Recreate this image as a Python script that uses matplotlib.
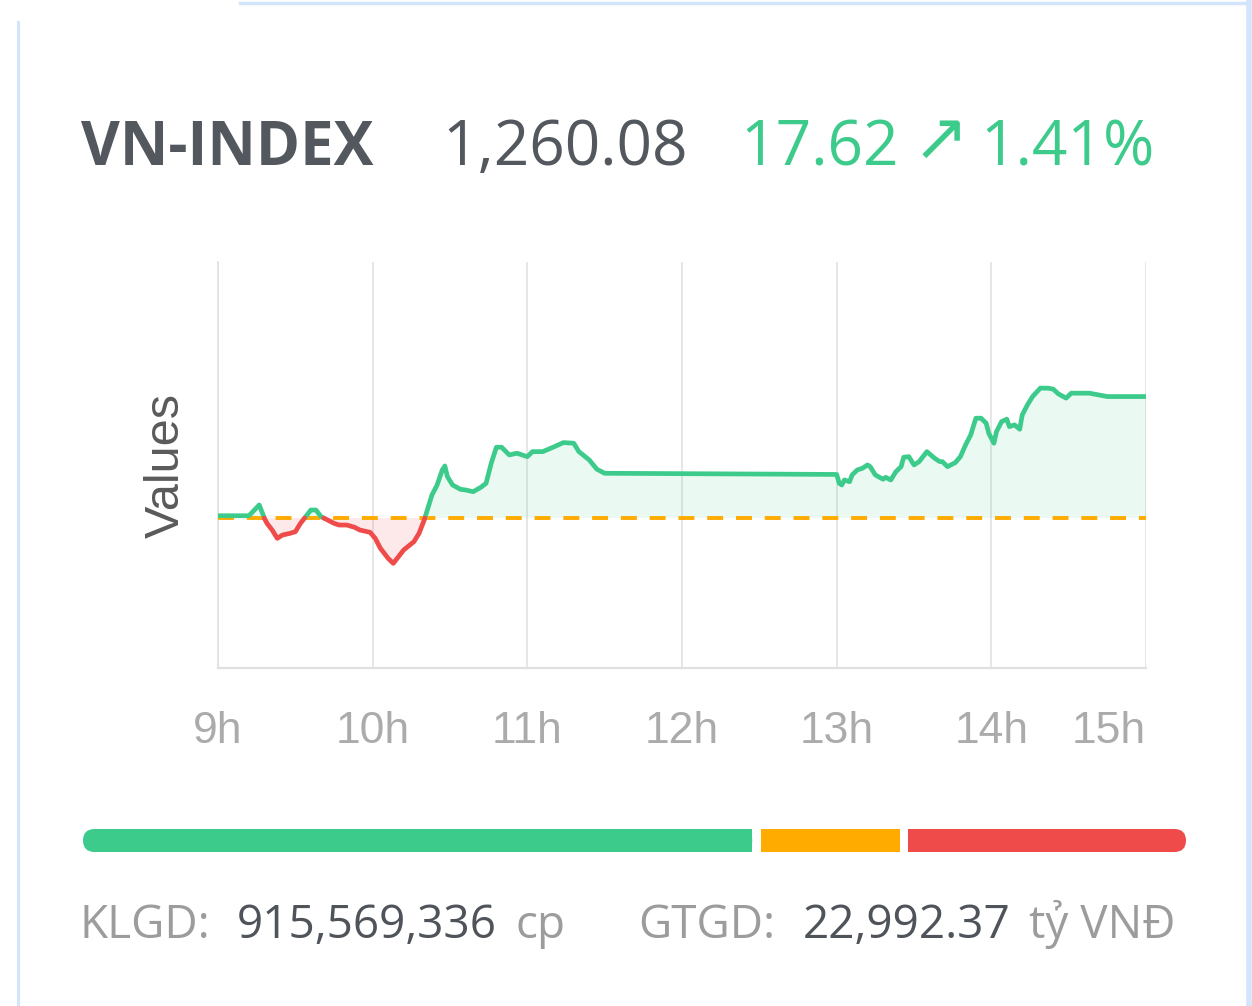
import numpy as np
import matplotlib
matplotlib.use("Agg")
import matplotlib.pyplot as plt
from matplotlib.patches import FancyBboxPatch, Rectangle
from matplotlib.lines import Line2D

# ---------------- data ----------------
index_name = "VN-INDEX"
close_text = "1,260.08"
change_text = "17.62"
arrow_text = "\u2197"
pct_text = "1.41%"
reference = 1242.46

times = ["09:00", "09:12", "09:16", "09:18", "09:19", "09:21", "09:23", "09:25",
         "09:28", "09:30", "09:32", "09:34", "09:36", "09:38", "09:40", "09:42",
         "09:45", "09:47", "09:50", "09:53", "09:55", "09:59", "10:01", "10:03",
         "10:06", "10:08", "10:10", "10:12", "10:16", "10:18", "10:20", "10:22",
         "10:23", "10:25", "10:27", "10:28", "10:29", "10:31", "10:34", "10:36",
         "10:39", "10:42", "10:44", "10:46", "10:48", "10:50", "10:53", "10:56",
         "11:00", "11:02", "11:06", "11:10", "11:14", "11:18", "11:20", "11:24",
         "11:27", "11:30", "13:00", "13:01", "13:02", "13:03", "13:05", "13:06",
         "13:08", "13:10", "13:12", "13:13", "13:15", "13:18", "13:19", "13:21",
         "13:23", "13:25", "13:26", "13:28", "13:30", "13:32", "13:35", "13:38",
         "13:40", "13:41", "13:43", "13:46", "13:48", "13:50", "13:52", "13:54",
         "13:56", "13:58", "13:59", "14:01", "14:02", "14:04", "14:06", "14:07",
         "14:09", "14:11", "14:12", "14:14", "14:16", "14:19", "14:22", "14:24",
         "14:26", "14:29", "14:31", "14:38", "14:45", "15:00"]
values = [1242.79, 1242.79, 1244.35, 1242.42, 1241.69, 1240.72, 1239.51, 1239.99,
          1240.24, 1240.47, 1241.69, 1242.65, 1243.62, 1243.62, 1242.65, 1242.27,
          1241.69, 1241.44, 1241.44, 1241.11, 1240.72, 1240.38, 1239.51, 1238.06,
          1236.61, 1235.88, 1236.84, 1237.81, 1239.02, 1240.24, 1242.17, 1244.60,
          1245.80, 1247.25, 1249.43, 1250.01, 1248.46, 1247.25, 1246.63, 1246.53,
          1246.28, 1246.92, 1247.50, 1250.41, 1252.73, 1252.73, 1251.61, 1251.86,
          1251.36, 1252.09, 1252.09, 1252.73, 1253.40, 1253.31, 1252.09, 1250.89,
          1249.53, 1248.95, 1248.78, 1247.50, 1247.25, 1247.98, 1247.73, 1248.71,
          1249.43, 1249.68, 1250.16, 1249.91, 1248.71, 1248.08, 1248.37, 1247.98,
          1249.19, 1249.91, 1251.28, 1251.36, 1250.16, 1250.64, 1252.09, 1251.13,
          1250.64, 1250.64, 1249.91, 1250.49, 1251.36, 1253.06, 1254.52, 1256.94,
          1256.94, 1256.22, 1254.76, 1253.31, 1255.00, 1256.45, 1256.80, 1255.72,
          1255.97, 1255.34, 1257.42, 1258.87, 1260.08, 1261.30, 1261.30, 1261.16,
          1260.47, 1259.85, 1260.57, 1260.57, 1260.08, 1260.08]

hour_ticks = [9, 10, 11, 12, 13, 14, 15]
hour_labels = ["9h", "10h", "11h", "12h", "13h", "14h", "15h"]
y_label = "Values"
y_limits = (1220.7, 1279.6)

breadth_counts = [265, 55, 110]          # advancing, unchanged, declining

volume_label, volume_value, volume_unit = "KLGD:", "915,569,336", "cp"
turnover_label, turnover_value, turnover_unit = "GTGD:", "22,992.37", "tỷ VNĐ"

# ---------------- styles ----------------
GREEN = "#3dcb8c"
RED = "#ef4b4b"
ORANGE = "#ffab00"
DARK = "#53575e"
GREY = "#9c9c9c"
BORDER = "#d3e5fa"
W, H = 1252, 1006

fig = plt.figure(figsize=(W / 100, H / 100), dpi=100)
fig.patch.set_facecolor("white")


def fx(px):
    return px / W


def fy(py):
    return 1 - py / H


# card borders
fig.add_artist(Line2D([fx(18), fx(18)], [fy(22), fy(1006)], transform=fig.transFigure,
                      color=BORDER, lw=2.2))
fig.add_artist(Line2D([fx(240), fx(1247)], [fy(3), fy(3)], transform=fig.transFigure,
                      color=BORDER, lw=2.5))
fig.add_artist(Line2D([fx(1249), fx(1249)], [fy(0), fy(1006)], transform=fig.transFigure,
                      color=BORDER, lw=4))

# ---------------- header ----------------
head_font = ["Open Sans", "DejaVu Sans"]
fig.text(fx(81), fy(165), index_name, fontsize=43, fontweight="bold", color=DARK,
         family=head_font, va="baseline", ha="left")
fig.text(fx(442), fy(165), close_text, fontsize=44.7, color=DARK, family=head_font,
         va="baseline", ha="left")
fig.text(fx(740), fy(165), change_text, fontsize=44.7, color=GREEN, family=head_font,
         va="baseline", ha="left")
fig.text(fx(941), fy(141), arrow_text, fontsize=48, color=GREEN, family=["DejaVu Sans"],
         va="center", ha="center")
fig.text(fx(980), fy(165), pct_text, fontsize=44.7, color=GREEN, family=head_font,
         va="baseline", ha="left")

# ---------------- line chart ----------------
t = np.array([int(s[:2]) + int(s[3:]) / 60 for s in times])
v = np.array(values)


def split_at_reference(x, y, ref):
    xs, ys = [x[0]], [y[0]]
    for i in range(1, len(x)):
        d0, d1 = y[i - 1] - ref, y[i] - ref
        if d0 * d1 < 0:
            f = d0 / (d0 - d1)
            xs.append(x[i - 1] + f * (x[i] - x[i - 1]))
            ys.append(ref)
        xs.append(x[i])
        ys.append(y[i])
    return np.array(xs), np.array(ys)


ts, vs = split_at_reference(t, v, reference)
up = np.where(vs >= reference, vs, np.nan)
down = np.where(vs <= reference, vs, np.nan)

ax = fig.add_axes([fx(218), fy(668), fx(1146) - fx(218), fy(262) - fy(668)])
ax.set_xlim(hour_ticks[0], hour_ticks[-1])
ax.set_ylim(*y_limits)

ax.fill_between(ts, vs, reference, where=vs >= reference, color=GREEN, alpha=0.1,
                linewidth=0, interpolate=True)
ax.fill_between(ts, vs, reference, where=vs <= reference, color=RED, alpha=0.12,
                linewidth=0, interpolate=True)
ax.axhline(reference, color=ORANGE, lw=2.8, dashes=(4.1, 3.3), zorder=3)
ax.plot(ts, up, color=GREEN, lw=3.4, solid_joinstyle="round", solid_capstyle="round", zorder=4)
ax.plot(ts, down, color=RED, lw=3.4, solid_joinstyle="round", solid_capstyle="round", zorder=4)

for h in hour_ticks:
    ax.axvline(h, color="#e2e2e2", lw=1.2, zorder=0)

for side in ("top", "right"):
    ax.spines[side].set_visible(False)
ax.spines["left"].set_color("#e2e2e2")
ax.spines["left"].set_linewidth(1.2)
ax.spines["bottom"].set_color("#e0e0e0")
ax.spines["bottom"].set_linewidth(1.6)

ax.set_yticks([])
ax.set_xticks(hour_ticks)
ax.set_xticklabels(hour_labels, family=["Liberation Sans"], fontsize=32, color="#ababab")
ax.get_xticklabels()[-1].set_ha("right")
ax.tick_params(axis="x", length=0, pad=31)
ax.text(-0.056, 0.5, y_label, transform=ax.transAxes, rotation=90, ha="center",
        va="center", fontsize=35, color="#5a5a5a", family=["Liberation Sans"])

# ---------------- breadth bar ----------------
bx0, bx1, by0, by1 = 83, 1186, 829, 852
bw, bh = bx1 - bx0, by1 - by0
gap = 8.5
axb = fig.add_axes([fx(bx0), fy(by1), fx(bx1) - fx(bx0), fy(by0) - fy(by1)])
axb.set_xlim(0, bw)
axb.set_ylim(0, bh)
axb.axis("off")
avail = bw - gap * (len(breadth_counts) - 1)
widths = np.array(breadth_counts) / sum(breadth_counts) * avail
starts = np.concatenate([[0], np.cumsum(widths + gap)[:-1]])
r = bh / 2
colors = [GREEN, ORANGE, RED]
for i, (s, w, c) in enumerate(zip(starts, widths, colors)):
    if i == 0:
        axb.add_patch(FancyBboxPatch((s, 0), w, bh, boxstyle=f"round,pad=0,rounding_size={r}",
                                     fc=c, ec="none"))
        axb.add_patch(Rectangle((s + w - r - 1, 0), r + 1, bh, fc=c, ec="none"))
    elif i == len(widths) - 1:
        axb.add_patch(FancyBboxPatch((s, 0), w, bh, boxstyle=f"round,pad=0,rounding_size={r}",
                                     fc=c, ec="none"))
        axb.add_patch(Rectangle((s, 0), r + 1, bh, fc=c, ec="none"))
    else:
        axb.add_patch(Rectangle((s, 0), w, bh, fc=c, ec="none"))

# ---------------- footer ----------------
foot_font = ["Open Sans", "DejaVu Sans"]
base = fy(938)
fig.text(fx(79), base, volume_label, fontsize=33, color=GREY, family=foot_font, va="baseline")
fig.text(fx(237), base, volume_value, fontsize=33, color="#4f535a", family=foot_font, va="baseline")
fig.text(fx(515), base, volume_unit, fontsize=33, color=GREY, family=foot_font, va="baseline")
fig.text(fx(638), base, turnover_label, fontsize=33, color=GREY, family=foot_font, va="baseline")
fig.text(fx(803), base, turnover_value, fontsize=33, color="#4f535a", family=foot_font, va="baseline")
fig.text(fx(1029), base, turnover_unit, fontsize=33, color=GREY, family=foot_font, va="baseline")

fig.savefig("out.png", dpi=100, facecolor="white")
